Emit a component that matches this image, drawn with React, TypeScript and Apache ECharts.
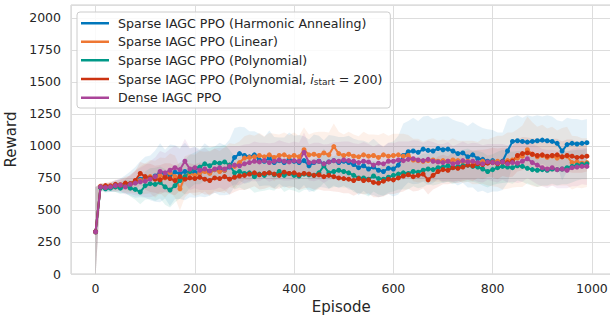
import React, { useEffect, useRef } from "react";
import * as echarts from "echarts";

const episodes = [
  0, 10, 20, 30, 40, 50, 60, 70, 80, 90,
  100, 110, 120, 130, 140, 150, 160, 170, 180, 190,
  200, 210, 220, 230, 240, 250, 260, 270, 280, 290,
  300, 310, 320, 330, 340, 350, 360, 370, 380, 390,
  400, 410, 420, 430, 440, 450, 460, 470, 480, 490,
  500, 510, 520, 530, 540, 550, 560, 570, 580, 590,
  600, 610, 620, 630, 640, 650, 660, 670, 680, 690,
  700, 710, 720, 730, 740, 750, 760, 770, 780, 790,
  800, 810, 820, 830, 840, 850, 860, 870, 880, 890,
  900, 910, 920, 930, 940, 950, 960, 970, 980, 990,
];

const harmonicMean = [
  330, 680, 672, 678, 685, 690, 700, 705, 715, 740,
  755, 750, 765, 790, 780, 770, 795, 785, 800, 790,
  795, 790, 810, 800, 815, 820, 810, 835, 910, 940,
  925, 915, 930, 890, 880, 905, 870, 885, 870, 895,
  880, 870, 885, 845, 870, 880, 860, 875, 885, 870,
  880, 870, 855, 830, 845, 820, 835, 810, 800, 825,
  820, 850, 925, 955, 960, 950, 975, 965, 960, 980,
  970, 975, 960, 940, 945, 915, 930, 900, 895, 880,
  885, 875, 880, 960, 1035, 1040, 1035, 1030, 1035, 1040,
  1045, 1040, 1035, 1020, 960, 1010, 1020, 1015, 1020, 1025,
];
const harmonicStd = [
  350, 25, 30, 35, 45, 55, 70, 95, 120, 140,
  160, 175, 200, 230, 190, 240, 210, 200, 225, 190,
  200, 185, 210, 190, 180, 205, 195, 215, 230, 210,
  220, 200, 185, 205, 190, 215, 200, 180, 195, 210,
  200, 215, 190, 205, 220, 200, 185, 210, 195, 200,
  190, 210, 200, 215, 195, 205, 220, 210, 190, 200,
  215, 230, 250, 240, 260, 245, 255, 270, 250, 240,
  260, 255, 245, 250, 235, 240, 255, 260, 245, 250,
  240, 230, 225, 250, 190, 200, 185, 210, 195, 200,
  185, 200, 195, 180, 230, 210, 190, 195, 180, 185,
];

const linearMean = [
  330, 685, 675, 690, 680, 695, 690, 705, 720, 730,
  745, 760, 740, 770, 750, 790, 760, 665, 760, 785,
  770, 790, 800, 785, 815, 800, 810, 850, 840, 870,
  905, 910, 915, 925, 915, 930, 910, 925, 930, 915,
  925, 915, 970, 930, 935, 925, 945, 930, 995, 940,
  925, 935, 920, 915, 930, 920, 925, 910, 930, 920,
  925, 930, 920, 925, 890, 885, 880, 885, 890, 880,
  885, 880, 890, 885, 875, 880, 870, 865, 880, 870,
  875, 880, 870, 885, 890, 905, 920, 970, 935, 915,
  925, 910, 920, 905, 915, 920, 870, 875, 865, 870,
];
const linearStd = [
  350, 25, 30, 35, 40, 45, 55, 70, 90, 110,
  120, 130, 145, 140, 155, 150, 165, 170, 160, 150,
  160, 170, 155, 175, 165, 160, 180, 170, 175, 165,
  170, 180, 165, 175, 160, 170, 185, 165, 175, 170,
  180, 165, 175, 160, 170, 185, 165, 175, 180, 170,
  165, 175, 170, 160, 180, 170, 165, 175, 170, 160,
  170, 165, 175, 160, 165, 170, 155, 165, 170, 160,
  165, 160, 170, 155, 165, 160, 170, 165, 175, 180,
  190, 200, 210, 220, 215, 225, 240, 260, 250, 235,
  240, 225, 230, 215, 225, 230, 210, 200, 195, 190,
];

const polyMean = [
  330, 675, 665, 670, 680, 670, 685, 670, 660, 640,
  690, 705, 700, 715, 680, 655, 690, 730, 760, 800,
  825, 835, 860, 845, 870, 865, 875, 850, 790, 800,
  785, 790, 760, 780, 770, 790, 775, 800, 770, 785,
  770, 765, 780, 775, 770, 790, 845, 790, 800, 810,
  800, 790, 770, 750, 750, 740, 765, 745, 740, 755,
  770, 780, 790, 785, 800, 795, 810, 820, 815, 830,
  835, 845, 830, 840, 845, 850, 840, 835, 820, 800,
  815, 830, 840, 835, 830, 845, 840, 825, 815, 810,
  815, 810, 820, 815, 820, 830, 840, 850, 855, 860,
];
const polyStd = [
  350, 25, 30, 30, 40, 45, 55, 65, 80, 95,
  110, 120, 130, 125, 140, 135, 130, 140, 135, 130,
  125, 135, 130, 140, 125, 130, 135, 120, 130, 125,
  130, 120, 125, 135, 120, 130, 125, 115, 130, 125,
  120, 130, 125, 115, 130, 120, 135, 125, 120, 130,
  125, 115, 130, 120, 125, 135, 120, 125, 130, 120,
  125, 120, 130, 125, 115, 125, 130, 120, 125, 130,
  120, 125, 130, 120, 125, 130, 120, 125, 130, 125,
  120, 125, 130, 120, 125, 115, 120, 125, 120, 130,
  125, 120, 115, 125, 120, 130, 125, 120, 115, 120,
];

const polyStartMean = [
  330, 680, 690, 685, 700, 695, 710, 705, 730, 785,
  760, 750, 740, 735, 755, 745, 730, 760, 740, 750,
  745, 755, 740, 730, 750, 745, 760, 740, 755, 765,
  770, 780, 790, 775, 785, 790, 780, 770, 795, 785,
  790, 775, 785, 780, 770, 775, 760, 770, 760, 750,
  745, 740, 730, 745, 730, 735, 715, 710, 725, 740,
  735, 750, 765, 775, 760, 770, 780, 735, 770, 800,
  815, 810, 830, 825, 835, 850, 845, 860, 855, 865,
  870, 860, 875, 870, 880, 925, 940, 945, 935, 925,
  930, 920, 925, 930, 915, 925, 920, 910, 915, 920,
];
const polyStartStd = [
  350, 25, 25, 30, 35, 40, 50, 60, 75, 90,
  100, 110, 105, 115, 110, 120, 115, 110, 120, 115,
  110, 115, 120, 110, 115, 105, 110, 120, 115, 110,
  115, 110, 105, 115, 120, 110, 115, 105, 110, 115,
  110, 120, 115, 105, 110, 115, 110, 120, 115, 110,
  115, 110, 120, 115, 110, 105, 115, 110, 120, 115,
  110, 115, 120, 110, 115, 120, 110, 115, 110, 120,
  115, 110, 120, 115, 110, 115, 120, 110, 115, 110,
  115, 120, 110, 115, 120, 125, 130, 120, 125, 130,
  125, 120, 130, 125, 120, 125, 130, 120, 125, 120,
];

const denseMean = [
  330, 680, 675, 680, 690, 695, 680, 700, 710, 720,
  725, 740, 760, 800, 790, 810, 830, 815, 880, 820,
  830, 810, 820, 805, 820, 830, 820, 840, 850, 845,
  860, 870, 880, 875, 885, 870, 880, 890, 880, 875,
  885, 880, 950, 870, 875, 880, 860, 875, 885, 880,
  890, 885, 880, 870, 880, 875, 850, 865, 860, 880,
  880, 890, 885, 895, 900, 890, 885, 895, 880, 875,
  870, 880, 860, 870, 885, 875, 880, 870, 860, 875,
  870, 865, 875, 860, 870, 865, 880, 900, 870, 850,
  830, 820, 830, 815, 820, 810, 830, 835, 840, 840,
];
const denseStd = [
  350, 25, 30, 35, 40, 50, 60, 75, 95, 110,
  125, 140, 150, 160, 155, 165, 170, 160, 175, 165,
  160, 155, 165, 150, 160, 155, 165, 160, 150, 155,
  150, 145, 155, 150, 140, 150, 145, 155, 150, 145,
  150, 145, 155, 140, 150, 145, 150, 140, 145, 150,
  145, 150, 140, 145, 150, 140, 145, 150, 140, 145,
  140, 145, 150, 140, 145, 150, 140, 145, 150, 140,
  145, 150, 140, 145, 150, 140, 145, 150, 145, 140,
  145, 150, 140, 145, 150, 155, 160, 150, 145, 150,
  145, 150, 140, 145, 150, 140, 145, 150, 140, 145,
];

const seriesNames = [
  "Sparse IAGC PPO (Harmonic Annealing)",
  "Sparse IAGC PPO (Linear)",
  "Sparse IAGC PPO (Polynomial)",
  "Sparse IAGC PPO (Polynomial, i_start = 200)",
  "Dense IAGC PPO",
];
const seriesColors = ["#0077bb", "#ee7733", "#009988", "#cc3311", "#aa4499"];
const seriesMeans = [harmonicMean, linearMean, polyMean, polyStartMean, denseMean];
const seriesStds = [harmonicStd, linearStd, polyStd, polyStartStd, denseStd];

const yTicks = [0, 250, 500, 750, 1000, 1250, 1500, 1750, 2000];

const FONT = "DejaVu Sans";
const TEXT = "#262626";

export default function App() {
  const ref = useRef<HTMLDivElement>(null);
  useEffect(() => {
    if (!ref.current) return;
    const chart = echarts.init(ref.current, undefined, { renderer: "svg" });

    const bandSeries = seriesMeans.map((mean, k) => {
      const std = seriesStds[k];
      const data = episodes.map((e, i) => [e, mean[i] - std[i], mean[i] + std[i]]);
      return {
        type: "custom",
        name: "band-" + k,
        silent: true,
        clip: true,
        z: 1,
        data,
        encode: { x: 0, y: [1, 2] },
        renderItem: (params: any, api: any) => {
          if (params.dataIndex !== 0) return null;
          const upper = data.map((d) => api.coord([d[0], d[2]]));
          const lower = data.map((d) => api.coord([d[0], d[1]])).reverse();
          return {
            type: "polygon",
            shape: { points: upper.concat(lower) },
            style: { fill: seriesColors[k], opacity: 0.1 },
          };
        },
      };
    });

    const lineSeries = seriesMeans.map((mean, k) => ({
      type: "line",
      name: seriesNames[k],
      data: episodes.map((e, i) => [e, mean[i]]),
      symbol: "circle",
      symbolSize: 5,
      showAllSymbol: true,
      lineStyle: { color: seriesColors[k], width: 2 },
      itemStyle: { color: seriesColors[k] },
      z: 3,
    }));

    chart.setOption({
      animation: false,
      textStyle: { fontFamily: FONT },
      grid: {
        left: 71,
        right: -1.5,
        top: 5,
        bottom: 41,
        show: true,
        borderColor: "#cccccc",
        borderWidth: 1,
        containLabel: false,
        outerBoundsMode: "none",
      },
      legend: {
        data: seriesNames.map((n, k) => ({ name: n, icon: "rect", itemStyle: { color: seriesColors[k] } })),
        orient: "vertical",
        left: 77,
        top: 12,
        itemWidth: 28,
        itemHeight: 2.5,
        itemGap: 4,
        padding: [4, 8, 3, 4],
        backgroundColor: "rgba(255,255,255,0.85)",
        borderColor: "#cccccc",
        borderWidth: 1,
        borderRadius: 3,
        selectedMode: false,
        formatter: (name: string) =>
          name === seriesNames[3]
            ? "{n|Sparse IAGC PPO (Polynomial, }{i|i}{s|start}{n| = 200)}"
            : name,
        textStyle: {
          fontFamily: FONT,
          fontSize: 12.6,
          color: TEXT,
          lineHeight: 14.5,
          padding: [0, 0, 0, 4],
          rich: {
            n: { fontFamily: FONT, fontSize: 12.6, color: TEXT, lineHeight: 14.5 },
            i: { fontFamily: FONT, fontSize: 12.6, fontStyle: "italic", color: TEXT, lineHeight: 14.5 },
            s: { fontFamily: FONT, fontSize: 9, color: TEXT, padding: [6, 0, 0, 0], lineHeight: 14.5 },
          },
        },
      },
      xAxis: {
        type: "value",
        min: -49.5,
        max: 1039.5,
        splitNumber: 5,
        name: "Episode",
        nameLocation: "middle",
        nameGap: 23,
        nameTextStyle: { fontFamily: FONT, fontSize: 15, color: TEXT },
        axisLine: { show: false },
        axisTick: { show: false },
        axisLabel: {
          fontFamily: FONT,
          fontSize: 12.5,
          color: TEXT,
          margin: 8,
          showMinLabel: false,
          showMaxLabel: false,
          formatter: (v: number) => String(v),
        },
        splitLine: { show: true, lineStyle: { color: "#dddddd", width: 1 } },
      },
      yAxis: {
        type: "value",
        min: yTicks[0],
        max: 2100,
        interval: yTicks[1] - yTicks[0],
        name: "Reward",
        nameLocation: "middle",
        nameGap: 47,
        nameTextStyle: { fontFamily: FONT, fontSize: 15, color: TEXT },
        axisLine: { show: false },
        axisTick: { show: false },
        axisLabel: {
          fontFamily: FONT,
          fontSize: 12.5,
          color: TEXT,
          margin: 10,
          showMaxLabel: false,
          formatter: (v: number) => (yTicks.includes(v) ? String(v) : ""),
        },
        splitLine: { show: true, lineStyle: { color: "#dddddd", width: 1 } },
      },
      series: [...bandSeries, ...lineSeries],
    });
    return () => chart.dispose();
  }, []);
  return (
    <div
      ref={ref}
      style={{ position: "fixed", left: 0, top: 0, width: 610, height: 315, background: "#ffffff" }}
    />
  );
}
